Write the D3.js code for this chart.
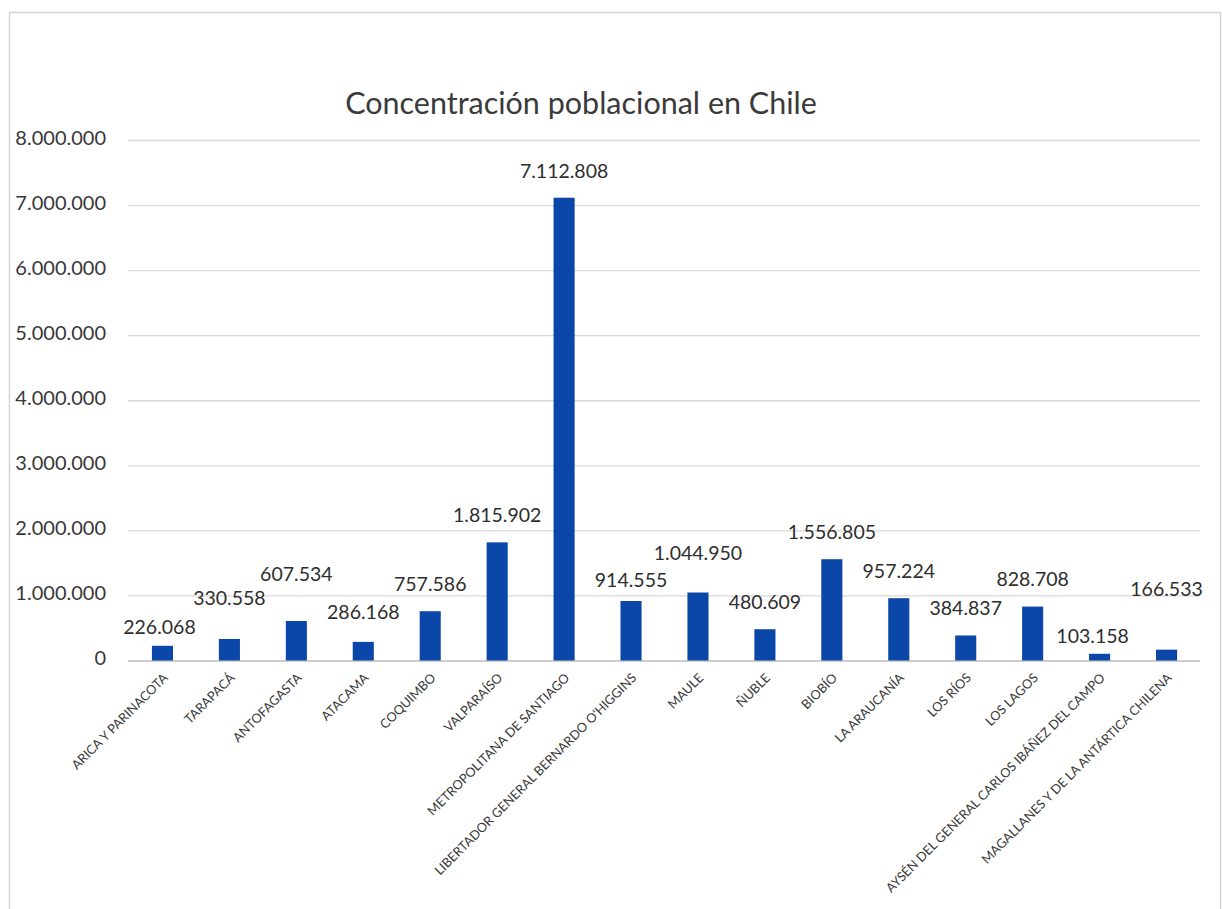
<!DOCTYPE html>
<html lang="es">
<head>
<meta charset="utf-8">
<title>Concentración poblacional en Chile</title>
<script src="https://cdn.jsdelivr.net/npm/d3@7"></script>
<style>
  html, body { margin: 0; padding: 0; background: #ffffff; }
  svg { display: block; }
  text { font-family: Lato, "Noto Sans", sans-serif; }
</style>
</head>
<body>
<svg id="chart" width="1222" height="909"></svg>
<script>
// Regiones de Chile y su población
const categories = [
  "ARICA Y PARINACOTA", "TARAPACÁ", "ANTOFAGASTA", "ATACAMA", "COQUIMBO",
  "VALPARAÍSO", "METROPOLITANA DE SANTIAGO", "LIBERTADOR GENERAL BERNARDO O'HIGGINS",
  "MAULE", "ÑUBLE", "BIOBÍO", "LA ARAUCANÍA", "LOS RÍOS", "LOS LAGOS",
  "AYSÉN DEL GENERAL CARLOS IBÁÑEZ DEL CAMPO", "MAGALLANES Y DE LA ANTÁRTICA CHILENA"
];
const population = [
  226068, 330558, 607534, 286168, 757586,
  1815902, 7112808, 914555,
  1044950, 480609, 1556805, 957224, 384837, 828708,
  103158, 166533
];
const yTicks = [0, 1000000, 2000000, 3000000, 4000000, 5000000, 6000000, 7000000, 8000000];
const chartTitle = "Concentración poblacional en Chile";

// Spanish number format: dot as thousands separator
const esLocale = d3.formatLocale({ decimal: ",", thousands: ".", grouping: [3], currency: ["$", ""] });
const fmt = esLocale.format(",d");

const svg = d3.select("#chart");

// Chart frame
svg.append("rect")
  .attr("x", 9.5).attr("y", 12.5)
  .attr("width", 1211).attr("height", 940)
  .attr("fill", "none")
  .attr("stroke", "#d4d4d4")
  .attr("stroke-width", 1.5);

const plot = { left: 129, right: 1200, top: 140, bottom: 660.5 };

const x = d3.scaleBand()
  .domain(categories)
  .range([plot.left, plot.right])
  .paddingInner(0.685)
  .paddingOuter(0.3425);

const y = d3.scaleLinear()
  .domain([0, d3.max(yTicks)])
  .range([plot.bottom, plot.top]);

// Title
svg.append("text")
  .attr("x", 581).attr("y", 114)
  .attr("text-anchor", "middle")
  .attr("font-size", 30.5)
  .attr("fill", "#3a3a3a")
  .text(chartTitle);

// Value axis with gridlines
const yAxis = svg.append("g")
  .attr("transform", `translate(${plot.left - 1},0)`)
  .call(d3.axisLeft(y)
    .tickValues(yTicks)
    .tickSize(-(plot.right - plot.left + 1))
    .tickPadding(22)
    .tickFormat(fmt));
yAxis.select(".domain").remove();
yAxis.selectAll(".tick line")
  .attr("stroke", d => d === 0 ? "#bdbdbd" : "#d9d9d9")
  .attr("stroke-width", 1.3);
yAxis.selectAll(".tick text")
  .attr("font-size", 20)
  .attr("fill", "#383838")
  .attr("dy", "0.2em")
  .style("font-family", "Lato, 'Noto Sans', sans-serif");

// Bars
svg.append("g").selectAll("rect")
  .data(categories)
  .join("rect")
  .attr("x", (d) => x(d))
  .attr("y", (d, i) => y(population[i]))
  .attr("width", x.bandwidth())
  .attr("height", (d, i) => y(0) - y(population[i]))
  .attr("fill", "#0a47a9");

// Data labels above the bars; a few were moved to avoid crowding
const labelLift = {
  "ARICA Y PARINACOTA": -8, "TARAPACÁ": 14, "ANTOFAGASTA": 20, "ATACAMA": 3,
  "LIBERTADOR GENERAL BERNARDO O'HIGGINS": -6, "MAULE": 12,
  "AYSÉN DEL GENERAL CARLOS IBÁÑEZ DEL CAMPO": -9,
  "MAGALLANES Y DE LA ANTÁRTICA CHILENA": 33
};
const labelShiftX = {
  "ARICA Y PARINACOTA": -3,
  "AYSÉN DEL GENERAL CARLOS IBÁÑEZ DEL CAMPO": -7
};
svg.append("g").selectAll("text")
  .data(categories)
  .join("text")
  .attr("x", d => x(d) + x.bandwidth() / 2 + (labelShiftX[d] || 0))
  .attr("y", (d, i) => y(population[i]) - 27 - (labelLift[d] || 0))
  .attr("dy", "0.35em")
  .attr("text-anchor", "middle")
  .attr("font-size", 19.5)
  .attr("fill", "#2e2e2e")
  .text((d, i) => fmt(population[i]));

// Category labels, rotated
svg.append("g").selectAll("text")
  .data(categories)
  .join("text")
  .attr("transform", d => `translate(${x(d) + x.bandwidth() / 2 + 3},${plot.bottom + 15}) rotate(-45)`)
  .attr("dy", "0.35em")
  .attr("text-anchor", "end")
  .attr("font-size", 12.8)
  .attr("fill", "#3a3a3a")
  .text(d => d);
</script>
</body>
</html>
